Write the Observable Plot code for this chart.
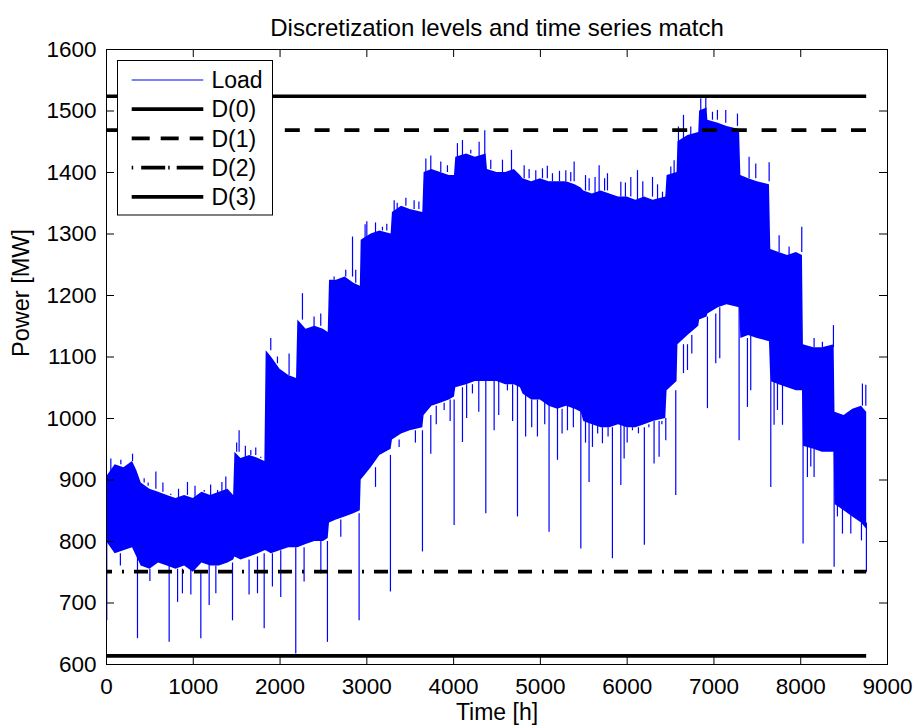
<!DOCTYPE html>
<html>
<head>
<meta charset="utf-8">
<script src="https://cdn.jsdelivr.net/npm/d3@7"></script>
<script src="https://cdn.jsdelivr.net/npm/@observablehq/plot@0.6"></script>
<style>
  html, body { margin: 0; padding: 0; background: #fff; }
  #chart { width: 915px; height: 725px; }
</style>
</head>
<body>
<div id="chart"></div>
<script>
// ---------------- data ----------------
const titleText = "Discretization levels and time series match";
const xLabel = "Time [h]";
const yLabel = "Power [MW]";
const xTicks = [0, 1000, 2000, 3000, 4000, 5000, 6000, 7000, 8000, 9000];
const yTicks = [600, 700, 800, 900, 1000, 1100, 1200, 1300, 1400, 1500, 1600];

// discretization levels
const levelNames = ["D(0)", "D(1)", "D(2)", "D(3)"];
const levelValues = [1524, 1469, 751, 614];

// Load series: dense band (typical daily peak / trough) read every ~100 h
const envHours = [0,100,200,300,350,400,500,600,700,800,900,1000,1100,1200,1300,1400,1465,
  1480,1550,1650,1750,1825,1840,1900,2000,2100,2190,2205,2300,2400,2500,2555,2570,2650,2750,2850,2925,
  2935,3050,3150,3280,3295,3400,3500,3645,3660,3750,3850,3950,4010,4025,4150,4250,4375,
  4390,4500,4600,4700,4770,4800,4900,5000,5100,5200,5300,5400,5470,5500,5600,5700,5800,
  5900,6000,6100,6200,6300,6445,6460,6575,6585,6700,6825,6835,6920,6930,7050,7150,7295,
  7310,7400,7500,7640,7655,7750,7850,7950,8020,8031,8150,8250,8385,8395,8500,8600,8700,8760];
const envHigh = [905,925,920,930,915,895,885,880,875,870,875,870,880,875,880,885,875,
  945,935,940,935,930,1110,1100,1080,1070,1065,1160,1145,1150,1145,1140,1225,1225,1230,1220,1215,
  1290,1300,1305,1300,1335,1345,1340,1335,1400,1405,1400,1395,1395,1425,1430,1425,1430,
  1405,1400,1400,1405,1395,1390,1385,1390,1385,1385,1385,1380,1375,1370,1365,1370,1365,
  1360,1360,1355,1360,1355,1360,1395,1400,1450,1460,1465,1500,1505,1485,1480,1475,1470,
  1395,1390,1385,1380,1275,1270,1265,1270,1265,1120,1115,1115,1120,1010,1005,1015,1020,1010];
const envLow = [800,780,785,790,775,760,755,765,760,755,760,750,765,760,760,765,770,
  775,770,775,780,785,785,780,785,790,790,790,795,800,800,805,830,835,840,845,850,
  900,920,940,950,965,975,980,985,1005,1020,1025,1030,1035,1050,1055,1060,1060,
  1060,1060,1055,1055,1050,1040,1030,1030,1020,1015,1020,1015,1010,995,990,985,985,
  990,985,985,990,995,1000,1045,1060,1120,1135,1150,1160,1165,1170,1180,1185,1180,
  1130,1135,1130,1125,1060,1055,1050,1045,1045,955,950,945,945,860,850,840,830,820];

// single-hour peaks above the band
const peakHours = [50,165,300,434,480,569,650,741,830,933,1020,1126,1200,1280,1330,1375,1500,1528,1600,1663,1720,1778,
  1893,1970,2104,2258,2392,2469,2623,2757,2835,2872,2980,3000,3100,3180,3230,3315,3350,3391,3450,3545,3600,
  3680,3737,3852,3929,4044,4102,4198,4294,4359,4428,4563,4667,4813,4870,4947,5024,5080,5139,5220,5293,5350,5389,
  5520,5562,5630,5677,5740,5773,5927,5980,6042,6119,6180,6292,6350,6407,6503,6541,6591,6649,6733,
  6848,6906,6983,7040,7136,7271,7405,7482,7636,7751,7866,8012,8154,8250,8377,8577,8711,8750];
const peakValues = [934,932,942,902,890,913,895,877,885,896,890,883,892,883,896,905,960,980,955,948,952,937,
  1130,1089,1105,1203,1165,1170,1230,1241,1295,1241,1315,1320,1318,1311,1316,1354,1350,1341,1358,1354,1352,
  1422,1427,1417,1411,1447,1452,1436,1449,1468,1420,1420,1436,1411,1405,1403,1406,1410,1398,1402,1403,1400,1417,
  1395,1390,1392,1411,1390,1398,1384,1383,1392,1403,1385,1392,1380,1368,1409,1419,1474,1493,1474,
  1520,1522,1498,1501,1501,1495,1425,1414,1416,1297,1279,1311,1130,1124,1151,1013,1056,1054];

// single-hour dips below the band
const dipHours = [3,160,357,500,722,819,875,972,1087,1183,1260,1452,1643,1740,1817,1912,2008,2181,2277,
  2470,2546,2700,2911,3100,3272,3372,3468,3560,3641,3737,3800,3891,3960,4006,4102,4150,4217,4290,4371,4467,
  4520,4620,4680,4736,4830,4900,4966,5050,5100,5197,5250,5312,5380,5466,5520,5561,5600,5660,5715,5780,5830,
  5927,5965,6000,6061,6130,6198,6250,6310,6368,6400,6445,6560,6649,6695,6745,6925,
  7021,7067,7290,7386,7424,7655,7693,7732,7790,8027,8077,8116,8154,8385,8423,8481,8577,8700,8757];
const dipValues = [671,760,642,735,636,701,715,713,642,696,715,671,713,715,658,726,709,617,734,
  747,636,807,671,888,718,953,975,960,783,942,990,1013,995,826,961,1000,1040,1010,845,980,
  1005,1045,995,840,970,985,970,990,815,932,975,980,985,788,960,896,953,975,959,970,772,
  891,934,960,980,975,794,985,926,937,990,964,875,1073,1078,1105,1016,
  1089,1097,964,1018,1045,888,989,1013,989,796,904,921,904,758,840,812,812,801,750];

// ---------------- build tables ----------------
const band = envHours.map((h, i) => ({hour: h, hi: envHigh[i], lo: envLow[i]}));
function edgeAt(h, key) {
  const i = Math.max(0, d3.bisectRight(envHours, h) - 1);
  return band[i][key];
}
const peaks = peakHours.map((h, i) => ({hour: h, value: peakValues[i], base: edgeAt(h, "hi")}));
const dips = dipHours.map((h, i) => ({hour: h, value: dipValues[i], base: edgeAt(h, "lo")}));
const levels = levelNames.map((n, i) => ({name: n, value: levelValues[i]}));
const xStart = envHours[0], xEnd = envHours[envHours.length - 1];

// ---------------- layout ----------------
const W = 915, H = 725;
const mL = 106, mR = 28, mT = 49, mB = 61;
const plotW = W - mL - mR, plotH = H - mT - mB;
const tickLen = 8;
const BLUE = "#0000ff";
const FONT = "'Liberation Sans', Arial, Helvetica, sans-serif";
const lw = 3.7;
const dashStyles = {
  "D(0)": null,
  "D(1)": "15,14.8",
  "D(2)": "2,10,14,10,14,10",
  "D(3)": null
};

const chart = Plot.plot({
  width: W,
  height: H,
  marginLeft: mL,
  marginRight: mR,
  marginTop: mT,
  marginBottom: mB,
  x: {domain: [0, 9000]},
  y: {domain: [600, 1600]},
  style: {fontFamily: FONT, fontSize: "22.5px", color: "#000", background: "#fff", overflow: "visible"},
  marks: [
    Plot.areaY(band, {x: "hour", y1: "lo", y2: "hi", fill: BLUE}),
    Plot.ruleX(peaks, {x: "hour", y1: "base", y2: "value", stroke: BLUE, strokeWidth: 1.2}),
    Plot.ruleX(dips, {x: "hour", y1: "base", y2: "value", stroke: BLUE, strokeWidth: 1.2}),
    ...levels.map(d => Plot.ruleY([d], {
      y: "value", x1: xStart, x2: xEnd, stroke: "#000", strokeWidth: lw,
      strokeDasharray: dashStyles[d.name] || undefined,
      strokeDashoffset: d.name === "D(2)" ? 44 : 0
    })),
    Plot.frame({stroke: "#000", strokeWidth: 1}),
    Plot.tickX(xTicks, {x: d => d, insetTop: plotH - tickLen, stroke: "#000"}),
    Plot.tickX(xTicks, {x: d => d, insetBottom: plotH - tickLen, stroke: "#000"}),
    Plot.tickY(yTicks, {y: d => d, insetRight: plotW - tickLen, stroke: "#000"}),
    Plot.tickY(yTicks, {y: d => d, insetLeft: plotW - tickLen, stroke: "#000"}),
    Plot.axisX({ticks: xTicks, tickSize: 0, tickPadding: 14, tickFormat: d3.format("d"), label: null}),
    Plot.axisY({ticks: yTicks, tickSize: 0, tickPadding: 10, tickFormat: d3.format("d"), label: null}),
    Plot.text([xLabel], {frameAnchor: "bottom", dy: 55, lineAnchor: "bottom", fontSize: 23, fill: "#000"}),
    Plot.text([yLabel], {frameAnchor: "left", dx: -77.7, rotate: -90, lineAnchor: "bottom", fontSize: 23.5, fill: "#000"}),
    Plot.text([titleText], {frameAnchor: "top", dy: -14, lineAnchor: "bottom", fontSize: 24, fill: "#000"})
  ]
});

document.getElementById("chart").appendChild(chart);

// ---------------- legend (inside the axes, top-left) ----------------
const legendItems = [
  {label: "Load", color: BLUE, width: 1, dash: null},
  {label: levelNames[0], color: "#000", width: lw, dash: null},
  {label: levelNames[1], color: "#000", width: lw, dash: "18,11"},
  {label: levelNames[2], color: "#000", width: lw, dash: "1.5,8,24,3,1.5,7,30"},
  {label: levelNames[3], color: "#000", width: lw, dash: null}
];
const svg = d3.select(chart);
const lg = svg.append("g").attr("font-family", FONT).attr("font-size", 23).attr("text-anchor", "start");
const bx = 117.5, by = 60.5, bw = 155, bh = 154.5;
lg.append("rect").attr("x", bx).attr("y", by).attr("width", bw).attr("height", bh)
  .attr("fill", "#fff").attr("stroke", "#000").attr("stroke-width", 1);
legendItems.forEach((it, i) => {
  const yy = 80 + i * 29.2;
  lg.append("line").attr("x1", 131.7).attr("x2", 203.3).attr("y1", yy).attr("y2", yy)
    .attr("stroke", it.color).attr("stroke-width", it.width)
    .attr("stroke-dasharray", it.dash);
  lg.append("text").attr("x", 211.5).attr("y", yy).attr("dy", "0.36em")
    .attr("text-anchor", "start").attr("fill", "#000").text(it.label);
});
</script>
</body>
</html>
